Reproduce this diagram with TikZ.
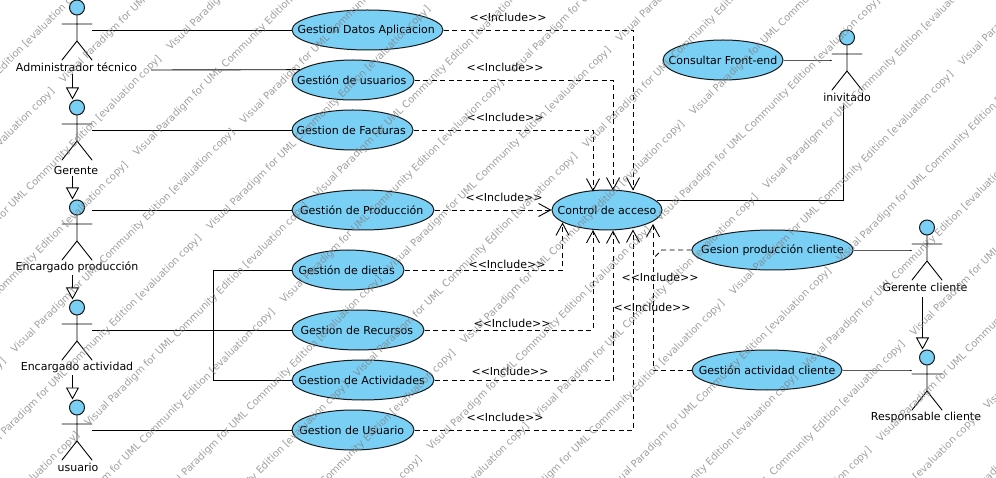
\documentclass[tikz,border=0pt]{standalone}
\usepackage{fontspec}
\setmainfont{DejaVu Sans}
\usetikzlibrary{shapes.geometric,arrows.meta,calc}
\definecolor{ucfill}{RGB}{122,207,245}
\tikzset{
  x=1pt,y=-1pt,
  uc/.style={draw=black!90,fill=ucfill,line width=1pt,ellipse,inner sep=0pt,minimum height=40pt,font=\fontsize{11}{13}\selectfont},
  figure/.style={draw=black,line width=0.9pt,line cap=round},
  actorbox/.style={inner sep=0pt,minimum width=30pt,minimum height=60pt},
  head/.style={draw=black!90,fill=ucfill,line width=1pt,circle,inner sep=0pt,minimum size=15pt},
  alabel/.style={inner sep=0pt,font=\fontsize{11}{13}\selectfont},
  assoc/.style={draw=black,line width=0.9pt},
  dep/.style={draw=black,line width=0.9pt,dash pattern=on 5pt off 3.5pt,-{Straight Barb[length=12pt,width=13pt,line width=0.9pt]}},
  depplain/.style={draw=black,line width=0.9pt,dash pattern=on 5pt off 3.5pt},
  gen/.style={draw=black,line width=0.9pt,-{Triangle[open,length=12pt,width=13pt,fill=white,line width=0.9pt]}},
  incl/.style={inner sep=0pt,font=\fontsize{11}{13}\selectfont},
  wm/.style={inner sep=0pt,rotate=45,anchor=east,text=black!50,opacity=0.75,font=\fontsize{10}{12}\selectfont},
}
\newcommand{\actorfig}[6]{% name, x, top, label, label dx, label y
  \node[actorbox] (#1) at (#2,#3+30) {};
  \node[head] (#1h) at (#2,#3+7.5) {};
  \draw[figure] (#1h.south) -- (#2,#3+41) -- (#2-15,#3+60) (#2,#3+41) -- (#2+15,#3+60)
     (#2-15,#3+24) -- (#2+15,#3+24);
  \node[alabel] (#1l) at (#2+#5,#6) {#4};
}
\newcommand{\usecase}[5]{% name,cx,cy,w,text
  \node[uc,minimum width=#4 pt] (#1) at (#2,#3) {\makebox[0pt]{\kern-2.5pt #5}};
}
\newcommand{\usecaseb}[5]{% name,cx,cy,w,text
  \node[uc,minimum width=#4 pt] (#1) at (#2,#3) {\makebox[0pt]{#5}};
}
\newcommand{\inctext}{<{}<Include>{}>}
\begin{document}
\begin{tikzpicture}
\useasboundingbox (0,0) rectangle (996,478);
\clip (0,0) rectangle (996,478);
\fill[white] (0,0) rectangle (996,478);

% use cases
\usecase{datos}{367.5}{30}{151}{Gestion Datos Aplicacion}
\usecase{usu}{353}{80}{122}{Gestión de usuarios}
\usecase{fact}{352.5}{130}{121}{Gestion de Facturas}
\usecase{prod}{363}{210}{142}{Gestión de Producción}
\usecase{diet}{348}{270}{112}{Gestión de dietas}
\usecase{recu}{358}{330}{132}{Gestion de Recursos}
\usecase{acti}{363}{380}{142}{Gestion de Actividades}
\usecase{usua}{353}{430}{122}{Gestion de Usuario}
\usecaseb{ctrl}{607}{210}{110}{Control de acceso}
\usecaseb{front}{723}{60}{120}{Consultar Front-end}
\usecaseb{gprod}{772.5}{250}{161}{Gesion producción cliente}
\usecaseb{gacti}{767}{370}{150}{Gestión actividad cliente}

% actors
\actorfig{adm}{77}{0}{Administrador técnico}{-0.5}{67}
\actorfig{ger}{77}{100}{Gerente}{-1}{170}
\actorfig{enp}{77}{200}{Encargado producción}{0}{267}
\actorfig{ena}{77}{300}{Encargado actividad}{0}{367}
\actorfig{usr}{77}{400}{usuario}{1}{467}
\actorfig{inv}{847}{30}{inivitado}{0}{97}
\actorfig{gcl}{927}{220}{Gerente cliente}{-2}{287}
\actorfig{rcl}{927}{350}{Responsable cliente}{-1}{417}

% free ends
\coordinate (a2) at (151,70);
\coordinate (b1) at (213,270);
\coordinate (b2) at (213,380);
\coordinate (g1) at (72.5,74);
\coordinate (g2) at (72.5,176);
\coordinate (g3) at (72.5,275);
\coordinate (g4) at (72.5,375);
\coordinate (g5) at (922.5,297);
\coordinate (i1) at (843,105);
\coordinate (c1) at (657,200);
\coordinate (t1) at (633,190.5);
\coordinate (t2) at (613,190.5);
\coordinate (t3) at (593,191.5);
\coordinate (s1) at (562.5,222.5);
\coordinate (s2) at (593,230);
\coordinate (s3) at (613,230.5);
\coordinate (s4) at (633,229.5);
\coordinate (s5) at (653,224);
\coordinate (j1) at (661.5,250);
\coordinate (j2) at (653,259);

% associations
\draw[assoc] (adm.east |- datos.west) -- (datos.west);
\draw[assoc] (a2) -- (usu.169);
\draw[assoc] (ger.east |- fact.west) -- (fact.west);
\draw[assoc] (enp.east |- prod.west) -- (prod.west);
\draw[assoc] (ena.east |- recu.west) -- (recu.west);
\draw[assoc] (b1) -- (diet.west);
\draw[assoc] (b1) -- (b2);
\draw[assoc] (b2) -- (acti.west);
\draw[assoc] (usr.east |- usua.west) -- (usua.west);
\draw[assoc] (front.east) -- (front.east -| inv.west) -- ++(-2,0);
\draw[assoc] (c1) -| (i1);
\draw[assoc] (gprod.east) -- (gprod.east -| gcl.west) -- ++(-2,0);
\draw[assoc] (gacti.east) -- (gacti.east -| rcl.west) -- ++(-2,0);

% generalisations
\draw[gen] (g1) -- (g1 |- gerh.north);
\draw[gen] (g2) -- (g2 |- enph.north);
\draw[gen] (g3) -- (g3 |- enah.north);
\draw[gen] (g4) -- (g4 |- usrh.north);
\draw[gen] (g5) -- (g5 |- rclh.north);

% includes
\draw[dep] (datos.east) -| (t1);
\draw[dep] (usu.east) -| (t2);
\draw[dep] (fact.east) -| (t3);
\draw[dep] (prod.east) -- (ctrl.west);
\draw[dep] (diet.east) -| (s1);
\draw[dep] (recu.east) -| (s2);
\draw[dep] (acti.east) -| (s3);
\draw[dep] (usua.east) -| (s4);
\draw[dep] (gacti.west) -| (s5);
\draw[depplain] (gprod.west) -- (j1) -- (j2);

\node[incl] (in1) at (508,17) {\inctext};
\node[incl] (in2) at (505,67) {\inctext};
\node[incl] (in3) at (505,117) {\inctext};
\node[incl] (in4) at (504,197) {\inctext};
\node[incl] (in5) at (507,264) {\inctext};
\node[incl] (in6) at (512,323) {\inctext};
\node[incl] (in7) at (510,371) {\inctext};
\node[incl] (in8) at (505,417) {\inctext};
\node[incl] (in9) at (660,277) {\inctext};
\node[incl] (in10) at (652,307) {\inctext};

% watermark
\foreach \k in {-2,...,10}{
  \foreach \n in {-4,...,5}{
    \node[wm] (wa\k\n) at ({53+73.5*\k+229*\n},{90+73.5*\k-229*\n}) {Visual Paradigm for UML Community Edition [evaluation copy]};
    \node[wm] (wb\k\n) at ({160+73.5*\k+229*\n},{57.5+73.5*\k-229*\n}) {Visual Paradigm for UML Community Edition [evaluation copy]};
  }
}
\end{tikzpicture}
\end{document}
